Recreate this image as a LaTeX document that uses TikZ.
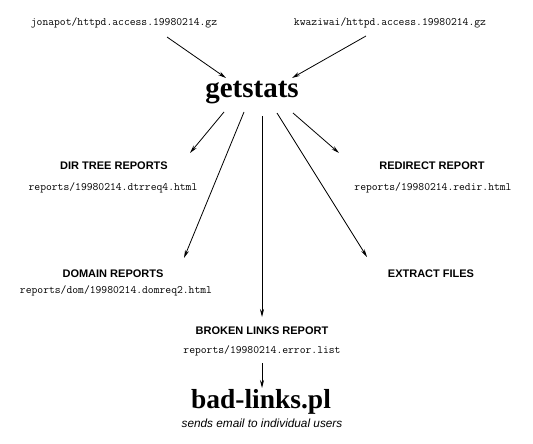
\documentclass[tikz,border=0pt]{standalone}
\usepackage{fontspec}
\usetikzlibrary{arrows.meta}
\newfontfamily\headfnt{Liberation Sans}
\newfontfamily\serifbfnt{Liberation Serif}
\tikzset{
  file/.style={anchor=base, inner sep=0pt, font=\ttfamily\fontsize{11.3pt}{12pt}\selectfont},
  heading/.style={anchor=base, inner sep=0pt, font=\headfnt\bfseries\fontsize{11pt}{13pt}\selectfont},
  prog/.style={anchor=base, inner sep=0pt, font=\serifbfnt\bfseries\fontsize{29pt}{31pt}\selectfont},
  note/.style={anchor=base, inner sep=0pt, font=\headfnt\itshape\fontsize{11.8pt}{13pt}\selectfont},
  flow/.style={draw=black, line width=0.8pt, -{Stealth[length=8pt,width=4pt]}}
}
\begin{document}
\begin{tikzpicture}[x=1pt,y=-1pt]
\useasboundingbox[fill=white] (0,0) rectangle (533,444);
% nodes
\node[file] (jon) at (124,26) {jonapot/httpd.access.19980214.gz};
\node[file] (kwa) at (390,26) {kwaziwai/httpd.access.19980214.gz};
\node[prog] (gs) at (252,98) {getstats};
\node[heading] (dir) at (114,169) {DIR TREE REPORTS};
\node[file] (dirf) at (113,190) {reports/19980214.dtrreq4.html};
\node[heading] (red) at (432,169) {REDIRECT REPORT};
\node[file] (redf) at (433,190) {reports/19980214.redir.html};
\node[heading] (dom) at (113,277) {DOMAIN REPORTS};
\node[file] (domf) at (116,293) {reports/dom/19980214.domreq2.html};
\node[heading] (ext) at (431,277) {EXTRACT FILES};
\node[heading] (brk) at (262,334) {BROKEN LINKS REPORT};
\node[file] (brkf) at (262,353) {reports/19980214.error.list};
\node[prog, font=\serifbfnt\bfseries\fontsize{27.5pt}{30pt}\selectfont] (bad) at (261,408) {bad-links.pl};
\node[note] (mail) at (262,427) {sends email to individual users};
% connector end points
\coordinate (jonout) at (167,37);
\coordinate (kwaout) at (366,36);
\coordinate (gsinl) at (226,78);
\coordinate (gsinr) at (292,78);
\coordinate (gsdir) at (224,112);
\coordinate (gsdom) at (244,112);
\coordinate (gsbrk) at (262,116);
\coordinate (gsext) at (277,113);
\coordinate (gsred) at (293,113);
\coordinate (dirin) at (190,153);
\coordinate (domin) at (184,258);
\coordinate (brkin) at (262,317);
\coordinate (extin) at (367,257);
\coordinate (redin) at (339,153);
\coordinate (brkout) at (262,363);
\coordinate (badin) at (262,388);
% connectors
\draw[flow] (jonout) -- (gsinl);
\draw[flow] (kwaout) -- (gsinr);
\draw[flow] (gsdir) -- (dirin);
\draw[flow] (gsdom) -- (domin);
\draw[flow] (gsbrk) -- (brkin);
\draw[flow] (gsext) -- (extin);
\draw[flow] (gsred) -- (redin);
\draw[flow] (brkout) -- (badin);
\end{tikzpicture}
\end{document}
